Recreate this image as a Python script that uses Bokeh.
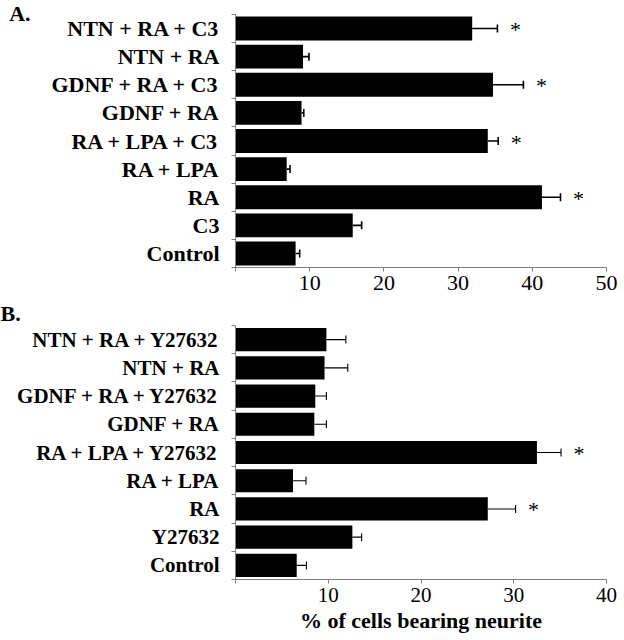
from bokeh.plotting import figure
from bokeh.models import ColumnDataSource, FixedTicker, Whisker, TeeHead, Label
from bokeh.layouts import column
from bokeh.embed import file_html
from bokeh.resources import INLINE
from bokeh.core.properties import value

# Panel A data (top to bottom)
cats_a = ["NTN + RA + C3", "NTN + RA", "GDNF + RA + C3", "GDNF + RA",
          "RA + LPA + C3", "RA + LPA", "RA", "C3", "Control"]
vals_a = [31.9, 9.1, 34.7, 8.9, 34.0, 6.9, 41.3, 15.8, 8.1]
errs_a = [3.4, 0.8, 4.1, 0.3, 1.4, 0.45, 2.5, 1.2, 0.55]
sig_a = [True, False, True, False, True, False, True, False, False]
ticks_a = [0, 10, 20, 30, 40, 50]

# Panel B data (top to bottom)
cats_b = ["NTN + RA + Y27632", "NTN + RA", "GDNF + RA + Y27632", "GDNF + RA",
          "RA + LPA + Y27632", "RA + LPA", "RA", "Y27632", "Control"]
vals_b = [9.8, 9.6, 8.6, 8.5, 32.5, 6.2, 27.2, 12.6, 6.6]
errs_b = [2.1, 2.5, 1.2, 1.3, 2.6, 1.4, 3.0, 1.0, 1.05]
sig_b = [False, False, False, False, True, False, True, False, False]
ticks_b = [0, 10, 20, 30, 40]

AXIS_COLOR = "#808080"
FONT = "Liberation Serif"
WIDTH = 622
BORDER_LEFT = 235


def panel(cats, vals, errs, sig, ticks, letter, letter_side, letter_x, height,
          mb_top, mb_bottom, mb_right, label_size, tick_size, err_width, bar_h,
          xlabel=None):
    n = len(cats)
    ys = [n - 0.5 - i for i in range(n)]
    hi = [v + e for v, e in zip(vals, errs)]
    src = ColumnDataSource(dict(y=ys, v=vals, hi=hi))
    xmax = ticks[-1]
    p = figure(width=WIDTH, height=height, x_range=(0, xmax), y_range=(0, n),
               output_backend="svg", toolbar_location=None,
               min_border_left=BORDER_LEFT, min_border_right=mb_right,
               min_border_top=mb_top, min_border_bottom=mb_bottom)
    p.hbar(y="y", left=0, right="v", height=bar_h, source=src,
           fill_color="black", line_color=None)
    w = Whisker(source=src, base="y", lower="v", upper="hi", dimension="width",
                line_color="black", line_width=err_width, lower_head=None,
                upper_head=TeeHead(size=8, line_color="black", line_width=err_width))
    p.add_layout(w)

    star_src = ColumnDataSource(dict(
        x=[h for h, s in zip(hi, sig) if s],
        y=[y for y, s in zip(ys, sig) if s],
        t=["*" for s in sig if s]))
    p.text(x="x", y="y", text="t", source=star_src, text_font=value(FONT),
           text_font_size="22px", text_align="center", text_baseline="alphabetic",
           x_offset=18, y_offset=1, text_color="black")

    p.grid.visible = False
    p.outline_line_color = None

    p.yaxis.ticker = FixedTicker(ticks=ys, minor_ticks=list(range(n + 1)))
    p.yaxis.major_label_overrides = {y: c for y, c in zip(ys, cats)}
    p.yaxis.major_tick_out = 0
    p.yaxis.major_tick_in = 0
    p.yaxis.minor_tick_out = 4
    p.yaxis.minor_tick_in = 0
    p.yaxis.minor_tick_line_color = AXIS_COLOR
    p.yaxis.axis_line_color = AXIS_COLOR
    p.yaxis.major_label_standoff = 12
    p.yaxis.major_label_text_font = FONT
    p.yaxis.major_label_text_font_style = "bold"
    p.yaxis.major_label_text_font_size = label_size
    p.yaxis.major_label_text_color = "black"

    p.xaxis.ticker = FixedTicker(ticks=ticks, minor_ticks=[])
    p.xaxis.major_label_overrides = {0: ""}
    p.xaxis.major_tick_out = 4
    p.xaxis.major_tick_in = 0
    p.xaxis.major_tick_line_color = AXIS_COLOR
    p.xaxis.axis_line_color = AXIS_COLOR
    p.xaxis.major_label_standoff = 4
    p.xaxis.major_label_text_font = FONT
    p.xaxis.major_label_text_font_size = tick_size
    p.xaxis.major_label_text_color = "black"
    if xlabel:
        p.xaxis.axis_label = xlabel
        p.xaxis.axis_label_text_font = FONT
        p.xaxis.axis_label_text_font_style = "bold"
        p.xaxis.axis_label_text_font_size = "22px"
        p.xaxis.axis_label_text_color = "black"
        p.xaxis.axis_label_standoff = 3

    # panel letter, placed at the canvas top-left (data units -> absolute position)
    frame_h = height - mb_top - mb_bottom
    frame_w = WIDTH - BORDER_LEFT - mb_right
    lx = (letter_x - BORDER_LEFT) * xmax / frame_w
    ly = n + mb_top * n / frame_h
    p.add_layout(Label(x=lx, y=ly, x_units="data", y_units="data",
                       text=letter, text_font=FONT, text_font_style="bold",
                       text_font_size="22px", text_baseline="top", text_align="left",
                       text_color="black"), letter_side)
    return p


pa = panel(cats_a, vals_a, errs_a, sig_a, ticks_a, "A.", "left", 5, 300,
           14, 33, 10, "22px", "22px", 1.6, 0.85)
pb = panel(cats_b, vals_b, errs_b, sig_b, ticks_b, "B.", "above", 0, 338,
           25, 59, 16, "21px", "21px", 1.1, 0.82,
           xlabel="% of cells bearing neurite")

layout = column(pa, pb, spacing=0)
open("out.html", "w").write(file_html(layout, INLINE))
